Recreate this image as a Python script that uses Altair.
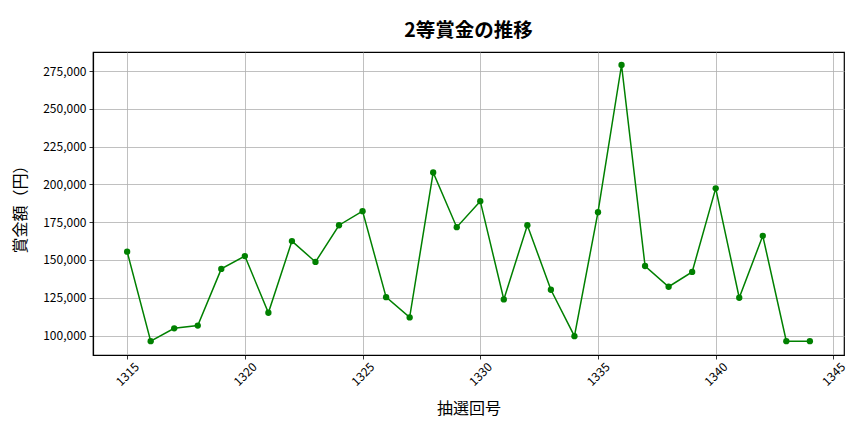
import altair as alt
import pandas as pd

draws = list(range(1315, 1345))
prizes = [155500, 96300, 104800, 106600, 144100, 152600, 115100, 162500, 148700, 173000,
          182300, 125400, 112000, 207900, 171700, 188900, 123900, 173000, 130300, 99600,
          181600, 279000, 146000, 132300, 142100, 197400, 125000, 166000, 96300, 96300]

df = pd.DataFrame({"draw": draws, "prize": prizes})

FONT = "Noto Sans CJK JP"
GREEN = "#008000"

x = alt.X("draw:Q", scale=alt.Scale(domain=[1313.55, 1345.45], nice=False, zero=False),
          axis=alt.Axis(title="抽選回号", values=list(range(1315, 1346, 5)), format="d",
                        labelAngle=315, labelAlign="center", labelBaseline="middle",
                        tickSize=4, labelPadding=15, titleY=53, titleBaseline="middle",
                        titleFontSize=16, titleFontWeight="normal"))
y = alt.Y("prize:Q", scale=alt.Scale(domain=[87140, 287600], nice=False, zero=False),
          axis=alt.Axis(title="賞金額（円）", values=list(range(100000, 275001, 25000)), format=",d",
                        tickSize=4, labelPadding=3, titleX=-73, titleY=153,
                        titleBaseline="middle", titleAngle=270,
                        titleFontSize=16, titleFontWeight="normal"))

line = alt.Chart(df).mark_line(color=GREEN, strokeWidth=1.5).encode(x=x, y=y)
pts = alt.Chart(df).mark_point(color=GREEN, filled=True, opacity=1, size=40).encode(x=x, y=y)

chart = (line + pts).properties(
    width=751, height=303,
    background="white",
    autosize=alt.AutoSizeParams(type="none"),
    padding={"left": 85, "top": 44, "right": 12, "bottom": 70},
    title=alt.TitleParams("2等賞金の推移", fontSize=19.5, font=FONT, fontWeight="bold",
                          anchor="middle", offset=11, color="black"),
).configure_view(stroke="#000000", strokeWidth=1.2).configure_axis(
    labelFont=FONT, titleFont=FONT, labelFontSize=12, labelColor="black", titleColor="black",
    gridColor="#b0b0b0", gridWidth=0.8, domain=True, domainColor="#000000", domainWidth=1.2,
    tickColor="black", tickWidth=0.8,
)

chart.save("out.html", embed_options={"renderer": "svg", "actions": False})
